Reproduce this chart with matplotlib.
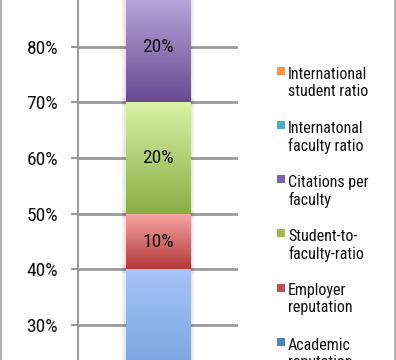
import numpy as np
import matplotlib
matplotlib.use("Agg")
import matplotlib.pyplot as plt
from matplotlib import font_manager
from matplotlib.colors import LinearSegmentedColormap
from matplotlib.patches import Rectangle
from matplotlib.lines import Line2D
from matplotlib.font_manager import FontProperties
import matplotlib.transforms as mtransforms
import matplotlib.patheffects as pe

# ---- data ----
categories = ["Academic\nreputation", "Employer\nreputation", "Student-to-\nfaculty-ratio",
              "Citations per\nfaculty", "Internatonal\nfaculty ratio", "International\nstudent ratio"]
weights = [40, 10, 20, 20, 5, 5]
top_colors = ["#a5c4f8", "#f8a6a5", "#d9f2a6", "#bfaddf", "#a0ddef", "#fcc191"]
bottom_colors = ["#4a7bc0", "#b3393a", "#88ad45", "#684991", "#3a9ab5", "#e2771f"]
legend_colors = ["#4f81bd", "#c0504d", "#9bbb59", "#8064a2", "#4bacc6", "#f79646"]
y_ticks = [30, 40, 50, 60, 70, 80]
y_top_label = 90

# ---- font: prefer a narrow Helvetica-like face ----
fname = None
prefs = ["Liberation Sans Narrow", "Arial Narrow", "Roboto Condensed", "Open Sans Condensed",
         "Noto Sans", "Open Sans", "Roboto", "Arimo", "Liberation Sans"]
cands = [f for f in font_manager.fontManager.ttflist
         if f.style == "normal" and f.weight in (400, "normal", "regular")]
for p in prefs:
    for f in cands:
        if f.name == p and (("Narrow" in p or "Condensed" in p) or f.stretch in ("condensed", "semi-condensed", 500 - 125, 500 - 250)):
            fname = f.fname
            break
    if fname:
        break
if fname:
    fp = FontProperties(fname=fname)
    tick_fs, leg_fs = 14, 11.5
else:
    fp = FontProperties(family="Liberation Sans")
    tick_fs, leg_fs = 13, 11.2

W, H = 396, 360
fig = plt.figure(figsize=(W / 100, H / 100), dpi=100)
ax = fig.add_axes([77.5 / W, 0, (238 - 77.5) / W, 1])

bottoms = np.concatenate([[0], np.cumsum(weights)[:-1]])
bars = ax.bar([0] * len(weights), weights, bottom=bottoms, width=0.4,
              color=legend_colors, edgecolor="none", zorder=3)
for b in bars:
    b.set_path_effects([pe.Stroke(linewidth=6, foreground=(0, 0, 0, 0.05)),
                        pe.Stroke(linewidth=3, foreground=(0, 0, 0, 0.05)),
                        pe.Normal()])

ax.set_yticks(y_ticks)
ax.set_yticklabels([f"{t}%" for t in y_ticks])
ax.set_xticks([])
ax.set_xlim(-0.5, 0.5)
ax.set_ylim(23.71, 88.39)
ymin, ymax = ax.get_ylim()

grad = np.linspace(0, 1, 256).reshape(-1, 1)
for b, tc, bc, w in zip(bars, top_colors, bottom_colors, weights):
    cmap = LinearSegmentedColormap.from_list("g", [bc, tc])
    x0, y0 = b.get_x(), b.get_y()
    im = ax.imshow(grad, cmap=cmap, origin="lower", aspect="auto",
                   extent=(x0, x0 + b.get_width(), y0, y0 + b.get_height()), zorder=4)
    im.set_clip_path(b)
    yc = y0 + b.get_height() / 2
    if ymin < yc < ymax:
        ax.text(x0 + b.get_width() / 2, yc, f"{w}%", ha="center", va="center",
                fontproperties=fp, fontsize=tick_fs, color="#111111", zorder=5)

ax.set_xlim(-0.5, 0.5)
ax.set_ylim(ymin, ymax)
ax.yaxis.grid(True, color="#9a9a9a", linewidth=2, zorder=1)
ax.set_axisbelow(True)
for s in ["top", "right", "bottom"]:
    ax.spines[s].set_visible(False)
ax.spines["left"].set_color("#9a9a9a")
ax.spines["left"].set_linewidth(1.5)
ax.tick_params(axis="y", length=5, width=1.5, color="#9a9a9a", pad=9,
               labelsize=tick_fs, labelcolor="#111111")
for lbl in ax.get_yticklabels():
    lbl.set_fontproperties(fp)
    lbl.set_fontsize(tick_fs)

# partially visible top label (90%)
tr = mtransforms.blended_transform_factory(fig.transFigure, ax.transData)
ax.text(58 / W, y_top_label, f"{y_top_label}%", transform=tr, ha="right", va="center",
        fontproperties=fp, fontsize=tick_fs, color="#111111", clip_on=False)

# ---- legend (manual, top entry first) ----
for i, (lab, col) in enumerate(zip(categories[::-1], legend_colors[::-1])):
    ytop = 66.7 + 54.2 * i
    fig.add_artist(Rectangle((277 / W, 1 - (ytop + 8) / H), 8 / W, 8 / H,
                             transform=fig.transFigure, facecolor=col, edgecolor="none"))
    fig.text(288 / W, 1 - ytop / H, lab, ha="left", va="top", fontproperties=fp,
             fontsize=leg_fs, color="#111111", linespacing=1.15)

# outer frame edges
fig.add_artist(Line2D([1 / W, 1 / W], [0, 1], transform=fig.transFigure, color="#b0b0b0", lw=1.5))
fig.add_artist(Line2D([394.5 / W, 394.5 / W], [0, 1], transform=fig.transFigure, color="#b0b0b0", lw=1.5))

fig.savefig("out.png", dpi=100)
